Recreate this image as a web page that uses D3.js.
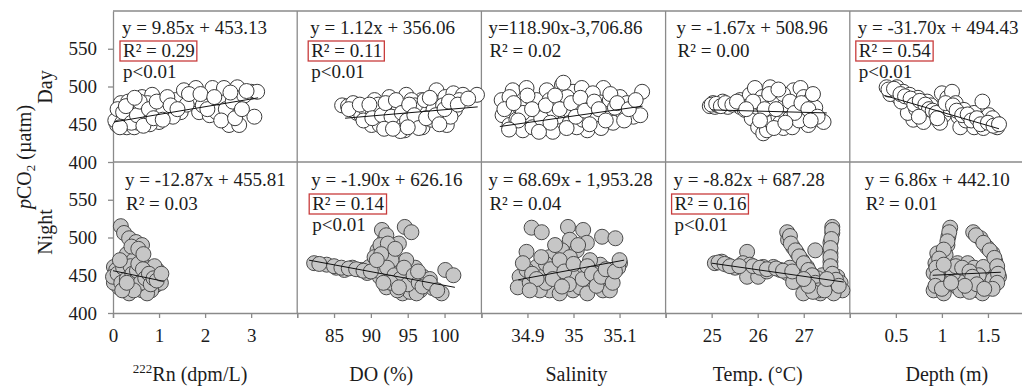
<!DOCTYPE html>
<html><head><meta charset="utf-8">
<script src="https://cdn.jsdelivr.net/npm/d3@7"></script>
<style>
body{margin:0;background:#fff}
svg{display:block}
text{font-family:"Liberation Serif","Times New Roman",serif;fill:#1c1c1c}
</style></head>
<body><svg id="c" width="1022" height="392"></svg>
<script>
// ---------------- data ----------------
const variables = ["Rn", "DO", "Salinity", "Temp", "Depth"];
const periods = ["Day", "Night"];
const xDomains = [[0, 4], [80, 105], [34.8, 35.2], [24, 28], [0, 2]];
const xTicks = [[0, 1, 2, 3], [85, 90, 95, 100], [34.9, 35, 35.1], [25, 26, 27], [0.5, 1, 1.5]];
const xTickLabels = [["0", "1", "2", "3"], ["85", "90", "95", "100"], ["34.9", "35", "35.1"], ["25", "26", "27"], ["0.5", "1", "1.5"]];
const yDomain = [400, 600];
const yTicks = [400, 450, 500, 550];
const yTickLabels = ["400", "450", "500", "550"];

const eqDay = ["y = 9.85x + 453.13", "y = 1.12x + 356.06", "y=118.90x-3,706.86", "y = -1.67x + 508.96", "y = -31.70x + 494.43"];
const r2Day = ["0.29", "0.11", "0.02", "0.00", "0.54"];
const sigDay = [true, true, false, false, true];
const eqNight = ["y = -12.87x + 455.81", "y = -1.90x + 626.16", "y = 68.69x - 1,953.28", "y = -8.82x + 687.28", "y = 6.86x + 442.10"];
const r2Night = ["0.03", "0.14", "0.04", "0.16", "0.01"];
const sigNight = [false, true, false, true, false];

// fitted line end points [x, pCO2]
const fitDay = [[[0.02, 453], [3.15, 485]], [[86.5, 458], [104.5, 473]], [[34.84, 447], [35.15, 474]], [[25.0, 469], [27.5, 465]], [[0.38, 488], [1.62, 444]]];
const fitNight = [[[0.0, 456], [1.1, 442]], [[81.6, 470], [101.4, 434]], [[34.88, 444], [35.11, 470]], [[25.0, 466], [27.87, 441]], [[0.9, 450], [1.64, 454]]];

// points [x, pCO2]
const rnDay = [[0.09,449],[0.13,462],[0.17,478],[0.05,455],[0.3,446],[0.46,446],[0.25,458],[0.38,470],[0.55,452],[0.63,486],[0.72,465],[0.85,489],[0.93,469],[1.0,453],[0.8,450],[0.68,458],[1.1,479],[1.22,462],[1.36,482],[1.47,466],[1.54,495],[1.72,486],[1.8,498],[1.87,466],[2.01,482],[2.16,498],[2.16,469],[2.3,482],[2.41,498],[2.52,449],[2.7,499],[2.74,449],[3.0,493],[3.13,493],[3.07,460],[0.2,452],[0.42,462],[0.5,476],[0.75,478],[1.15,470],[1.3,460],[1.6,476],[1.95,475],[2.1,462],[2.25,466],[2.45,470],[2.6,480],[2.85,488],[2.35,455],[1.05,466],[0.6,470],[0.35,455],
  [0.1,470],[0.22,466],[0.33,480],[0.4,452],[0.52,462],[0.58,480],[0.66,448],[0.78,470],[0.88,458],[0.95,480],[1.08,456],[1.18,486],[0.28,474],[0.47,485],[0.15,446],[1.25,475],[1.4,470],[1.65,490],[1.9,490],[2.05,470],[2.2,486],[2.55,492],[2.65,458],[2.9,494],[2.8,470]];
const doDay = [[86.1,475],[86.9,474],[87.6,478],[88.1,465],[88.7,462],[89.4,469],[90.1,449],[90.5,482],[90.9,460],[91.6,473],[92.1,452],[92.5,486],[93,465],[93.5,449],[93.9,478],[94.3,458],[94.6,442],[94.8,489],[95,469],[95.7,449],[96.4,465],[96.9,482],[97,446],[97.7,469],[98.2,456],[98.9,495],[99.1,478],[99.6,462],[100.1,486],[100.3,449],[101.2,491],[101.4,469],[102.5,489],[104.4,489],[90.3,465],[91.2,449],[92.5,455],[93.2,469],[94,441],[95.5,482],[96,475],[97.3,482],[98.5,469],[99.8,475],[100.8,460],[102,482],[89,455],[91,476],[93.8,470],[96.8,455],
  [87,470],[88.5,476],[89.8,476],[90.2,458],[91.5,462],[92,478],[92.8,460],[93.4,482],[94.2,465],[94.9,455],[95.2,476],[95.9,462],[96.5,445],[97.5,458],[98,485],[98.8,462],[99.3,450],[100,470],[100.6,480],[101.8,476],[103.2,484],[91.8,444],[93,444],[95,446]];
const salDay = [[34.844,482],[34.846,462],[34.861,449],[34.868,495],[34.883,473],[34.89,442],[34.898,498],[34.905,462],[34.92,482],[34.927,449],[34.933,469],[34.942,495],[34.955,440],[34.964,460],[34.975,502],[34.978,478],[34.992,452],[34.999,493],[35.01,469],[35.018,498],[35.03,442],[35.036,473],[35.051,458],[35.065,498],[35.072,469],[35.086,452],[35.101,486],[35.108,465],[35.13,460],[35.149,493],[35.145,462],[34.861,486],[34.876,456],[34.911,446],[34.948,482],[34.986,486],[35.007,446],[35.042,491],[35.079,482],[35.116,478],[34.978,505],[34.89,465],[34.955,465],[35.02,456],[35.06,445],[34.93,458],[35.09,472],
  [34.85,470],[34.87,478],[34.88,455],[34.9,488],[34.91,470],[34.925,440],[34.94,475],[34.95,452],[34.96,488],[34.97,470],[34.985,445],[34.995,478],[35.005,460],[35.015,485],[35.025,468],[35.035,450],[35.045,480],[35.055,470],[35.07,455],[35.08,490],[35.095,478],[35.11,455],[35.12,470],[35.135,482],[34.86,443]];
const tempDay = [[24.96,474],[25.03,478],[25.07,473],[25.14,475],[25.24,480],[25.35,473],[25.51,478],[25.62,482],[25.62,473],[25.72,469],[25.83,489],[25.83,475],[25.87,458],[25.94,498],[25.98,473],[26.01,446],[26.1,486],[26.12,438],[26.2,465],[26.2,442],[26.27,499],[26.31,452],[26.38,482],[26.45,460],[26.49,452],[26.52,469],[26.56,445],[26.64,486],[26.7,458],[26.75,446],[26.78,495],[26.85,473],[26.93,498],[27,486],[27.03,462],[27.1,449],[27.14,482],[27.21,465],[27.36,456],[27.43,453],[26.05,478],[26.6,476],[26.9,455],[27.05,475],[27.25,472],
  [25.0,476],[25.1,477],[25.2,474],[25.3,478],[25.45,476],[25.55,480],[25.9,480],[26.15,470],[26.25,490],[26.4,470],[26.55,490],[26.7,480],[26.8,465],[26.95,478],[27.1,470],[27.2,490],[27.3,460],[26.35,445],[26.6,452],[26.05,455],[25.75,470],[26.45,496],[27.15,455]];
const depthDay = [[0.4,499],[0.46,495],[0.49,491],[0.53,486],[0.51,499],[0.58,493],[0.62,482],[0.65,489],[0.69,478],[0.74,485],[0.78,473],[0.84,480],[0.87,466],[0.91,460],[0.96,471],[1.0,491],[1.02,462],[1.06,485],[1.11,493],[1.15,478],[1.18,460],[1.24,469],[1.29,458],[1.35,465],[1.4,452],[1.44,480],[1.47,456],[1.53,449],[1.58,453],[1.6,446],[1.51,462],[0.69,456],[0.63,465],[0.8,453],[0.98,452],[1.2,446],[1.35,446],[1.45,445],[0.44,490],[0.56,480],[0.72,470],[0.88,475],[1.08,470],[1.26,455],[1.55,458],
  [0.42,496],[0.48,497],[0.55,490],[0.6,487],[0.66,484],[0.7,476],[0.76,481],[0.82,476],[0.86,470],[0.9,468],[0.94,465],[1.04,478],[1.12,475],[1.16,468],[1.22,462],[1.28,463],[1.32,455],[1.38,458],[1.42,450],[1.5,452],[1.56,448],[1.62,450],[0.75,460],[0.95,458]];
const rnNight = [[0.17,515],[0.24,506],[0.35,499],[0.5,494],[0.63,490],[0.46,483],[0.57,474],[0.02,461],[0.07,457],[0.2,448],[0.28,466],[0.39,457],[0.41,440],[0.13,434],[0.57,448],[0.72,461],[0.74,440],[0.85,453],[0.93,437],[1.0,448],[1.04,440],[0.63,430],[0.28,430],[0.83,430],[0.02,440],[0.61,466],[0.5,460],[0.13,448],[0.96,457],[0.74,426],[0.35,426],[0.0,448],[0.3,478],[0.45,470],[0.25,452],[0.55,438],[0.8,445],[0.68,452],[0.9,462],[0.4,448],
  [0.1,452],[0.18,440],[0.22,460],[0.3,445],[0.33,436],[0.38,462],[0.42,452],[0.48,442],[0.52,456],[0.55,465],[0.6,440],[0.65,458],[0.7,446],[0.78,452],[0.82,438],[0.88,446],[0.95,443],[0.45,430],[0.2,430],[0.15,470],[0.4,488],[0.55,485],[0.66,478],[0.3,440],[1.05,452]];
const doNight = [[82.3,466],[84,464],[85.3,460],[86.4,457],[87.5,460],[88.7,457],[89.5,453],[91.5,510],[94.6,514],[95.5,507],[91.9,497],[92.6,487],[90.9,483],[93,474],[91.6,466],[90.8,461],[93.5,461],[94.3,453],[92.6,448],[93.5,440],[94.9,434],[95.7,441],[96.7,430],[97.6,440],[98.4,433],[99.6,426],[96,460],[97.1,448],[100.1,457],[101.2,450],[94.3,426],[95.3,428],[89.8,461],[91.2,448],[92.1,434],[90.5,474],[92.1,503],[92.8,481],[93.6,430],[96.2,426],[92,470],[93.8,492],[94.8,470],[95.2,450],[98,445],[91,456],[93,456],
  [83,465],[85,462],[86,460],[87,459],[88,458],[89,456],[90,455],[91.3,490],[92.3,492],[92.8,470],[93.3,485],[92.2,460],[93.2,450],[94,445],[94.5,460],[95,438],[95.8,450],[96.5,440],[97,435],[98,440],[99,430],[92.7,440],[91.7,440],[93.8,434],[96.4,455],[91.4,478],[90.8,470]];
const salNight = [[34.909,513],[34.931,507],[34.988,514],[35.021,510],[35.062,501],[35.091,499],[34.992,497],[34.975,483],[35.007,483],[35.029,493],[34.898,481],[34.948,474],[34.963,464],[34.92,461],[34.883,448],[34.879,434],[34.905,440],[34.933,448],[34.948,430],[34.977,444],[34.999,430],[35.021,457],[35.042,440],[35.064,430],[35.079,448],[35.101,466],[35.097,460],[35.058,464],[35.036,470],[34.985,461],[35.014,434],[34.97,426],[34.927,430],[34.898,457],[34.992,474],[35.079,430],[34.96,452],[35.0,448],[35.05,452],[34.94,440],[35.03,426],
  [34.89,466],[34.91,452],[34.92,445],[34.94,465],[34.95,458],[34.955,445],[34.97,470],[34.98,455],[34.99,438],[35.0,465],[35.01,490],[35.02,445],[35.03,462],[35.04,452],[35.05,436],[35.06,448],[35.07,458],[35.085,440],[35.09,455],[34.96,490],[34.93,474],[34.905,430],[35.1,470],[34.975,435]];
const tempNight = [[25.07,466],[25.22,468],[25.33,464],[25.51,460],[25.77,481],[25.68,466],[25.83,464],[25.77,448],[26.01,448],[26.12,461],[26.34,461],[26.49,457],[26.64,453],[26.86,453],[26.64,507],[26.66,497],[26.77,487],[26.86,479],[26.96,470],[27.07,461],[27.14,453],[27.25,483],[27.21,444],[27.29,434],[27.07,430],[26.96,440],[27.43,440],[27.54,430],[27.62,514],[27.62,506],[27.58,493],[27.58,479],[27.58,468],[27.58,457],[27.73,448],[27.8,440],[27.84,430],[27.65,426],[27.36,426],[26.99,426],[26.77,441],[27.4,450],[26.2,455],[26.7,460],[27.3,446],[27.5,436],
  [25.15,467],[25.28,465],[25.4,462],[25.6,462],[25.9,462],[26.05,460],[26.2,458],[26.4,459],[26.55,456],[26.75,455],[26.7,502],[26.72,492],[26.82,483],[26.9,475],[27.0,466],[27.1,457],[27.18,450],[27.25,440],[27.32,430],[27.2,428],[27.45,430],[27.62,510],[27.6,498],[27.58,486],[27.58,474],[27.58,462],[27.62,452],[27.7,444],[27.76,436],[27.5,445],[27.1,436],[27.0,445]];
const depthNight = [[1.09,513],[1.07,501],[1.06,490],[0.95,479],[1.04,477],[0.93,466],[1.34,507],[1.42,499],[1.49,487],[1.55,479],[1.58,468],[1.6,457],[1.62,448],[1.17,466],[1.28,466],[1.35,460],[1.2,453],[1.09,448],[0.98,440],[0.91,430],[1.02,426],[1.17,434],[1.31,440],[1.39,430],[1.49,440],[1.55,444],[0.91,453],[0.96,457],[1.45,461],[1.2,430],[1.44,426],[1.1,458],[1.25,446],[1.05,438],[1.4,450],[1.3,428],
  [1.08,507],[1.06,495],[1.02,484],[0.97,472],[0.94,460],[0.95,448],[0.93,436],[1.0,432],[1.37,503],[1.45,493],[1.52,483],[1.57,473],[1.6,462],[1.61,452],[1.6,440],[1.55,432],[1.12,452],[1.15,462],[1.22,460],[1.3,455],[1.33,448],[1.38,438],[1.25,436],[1.1,440],[1.46,432],[1.02,464]];

const dayPoints = [rnDay, doDay, salDay, tempDay, depthDay];
const nightPoints = [rnNight, doNight, salNight, tempNight, depthNight];

// ---------------- layout ----------------
const svg = d3.select("#c");
const L = 113, PW = 184.2, TOPS = [11, 162], PH = 151;
const gridColor = "#8a8a8a";
const FS = 19;
const textDx = [[9, 13, 7, 11, 8], [12, 14, 7, 8, 15]];
const baseDy = [[23, 46, 67], [24, 48, 69]];

const yScales = TOPS.map(t => d3.scaleLinear().domain(yDomain).range([t + PH, t]));
const xScales = variables.map((v, i) => d3.scaleLinear().domain(xDomains[i]).range([L + i * PW, L + (i + 1) * PW]));

// frame lines
const frame = svg.append("g").attr("stroke", gridColor).attr("stroke-width", 1.3).attr("fill", "none");
TOPS.forEach(t => frame.append("line").attr("x1", L).attr("x2", 1040).attr("y1", t).attr("y2", t));
variables.forEach((v, i) => {
  if (i > 0) frame.append("line").attr("x1", L + i * PW).attr("x2", L + i * PW).attr("y1", TOPS[0]).attr("y2", TOPS[1] + PH);
});

// y axes
yScales.forEach((y, r) => {
  const g = svg.append("g").attr("transform", `translate(${L},0)`)
    .call(d3.axisLeft(y).tickValues(yTicks).tickFormat((d, k) => yTickLabels[k]).tickSize(5).tickSizeOuter(0).tickPadding(11));
  g.attr("font-size", FS);
  g.selectAll("path,line").attr("stroke", gridColor).attr("stroke-width", 1.3);
});

// x axes
xScales.forEach((x, i) => {
  const g = svg.append("g").attr("transform", `translate(0,${TOPS[1] + PH})`)
    .call(d3.axisBottom(x).tickValues(xTicks[i]).tickFormat((d, k) => xTickLabels[i][k]).tickSize(5).tickSizeOuter(5).tickPadding(11));
  g.attr("font-size", FS);
  g.selectAll("path,line").attr("stroke", gridColor).attr("stroke-width", 1.3);
});

// points + fit lines
[dayPoints, nightPoints].forEach((rowPts, r) => {
  const y = yScales[r];
  rowPts.forEach((pts, i) => {
    const x = xScales[i];
    svg.append("g").selectAll("circle").data(pts).join("circle")
      .attr("cx", d => x(d[0])).attr("cy", d => y(d[1])).attr("r", 7.5)
      .attr("fill", r === 0 ? "#ffffff" : "#c6c6c6")
      .attr("stroke", r === 0 ? "#3a3a3a" : "#4a4a4a").attr("stroke-width", 1);
    const f = (r === 0 ? fitDay : fitNight)[i];
    svg.append("line").attr("x1", x(f[0][0])).attr("y1", y(f[0][1])).attr("x2", x(f[1][0])).attr("y2", y(f[1][1]))
      .attr("stroke", "#111").attr("stroke-width", 1);
  });
});

// annotations
[[eqDay, r2Day, sigDay], [eqNight, r2Night, sigNight]].forEach(([eqs, r2s, sigs], r) => {
  variables.forEach((v, i) => {
    const x0 = L + i * PW + textDx[r][i];
    const t0 = TOPS[r];
    svg.append("text").attr("x", x0).attr("y", t0 + baseDy[r][0]).attr("font-size", FS).text(eqs[i]);
    const rt = svg.append("text").attr("x", x0 + 1).attr("y", t0 + baseDy[r][1]).attr("font-size", FS).text("R\u00B2 = " + r2s[i]);
    if (sigs[i]) {
      const b = rt.node().getBBox();
      svg.append("rect").attr("x", b.x - 3).attr("y", b.y + 1).attr("width", b.width + 5).attr("height", b.height - 1)
        .attr("fill", "none").attr("stroke", "#c83c3c").attr("stroke-width", 1.3);
      svg.append("text").attr("x", x0 + 1).attr("y", t0 + baseDy[r][2]).attr("font-size", FS).text("p<0.01");
    }
  });
});

// x axis titles
const titleY = 381;
const titleDx = [-15, -8, 3, 0, 5];
const titles = svg.append("g").attr("font-size", 20).attr("text-anchor", "middle");
const t0 = titles.append("text").attr("x", L + 0.5 * PW + titleDx[0]).attr("y", titleY);
t0.append("tspan").attr("font-size", 13).attr("dy", -8).text("222");
t0.append("tspan").attr("dy", 8).text("Rn (dpm/L)");
["DO (%)", "Salinity", "Temp. (\u00B0C)", "Depth (m)"].forEach((s, k) => {
  titles.append("text").attr("x", L + (k + 1.5) * PW + titleDx[k + 1]).attr("y", titleY).text(s);
});

// y titles
const yt = svg.append("text").attr("transform", "translate(31,157) rotate(-90)").attr("text-anchor", "middle").attr("font-size", 20);
yt.append("tspan").attr("font-style", "italic").text("p");
yt.append("tspan").text("CO");
yt.append("tspan").attr("font-size", 13).attr("dy", 4).text("2");
yt.append("tspan").attr("dy", -4).text(" (\u00B5atm)");
periods.forEach((p, r) => {
  svg.append("text").attr("transform", `translate(52,${r === 0 ? 87 : 232}) rotate(-90)`)
    .attr("text-anchor", "middle").attr("font-size", 20).text(p);
});
</script></body></html>
